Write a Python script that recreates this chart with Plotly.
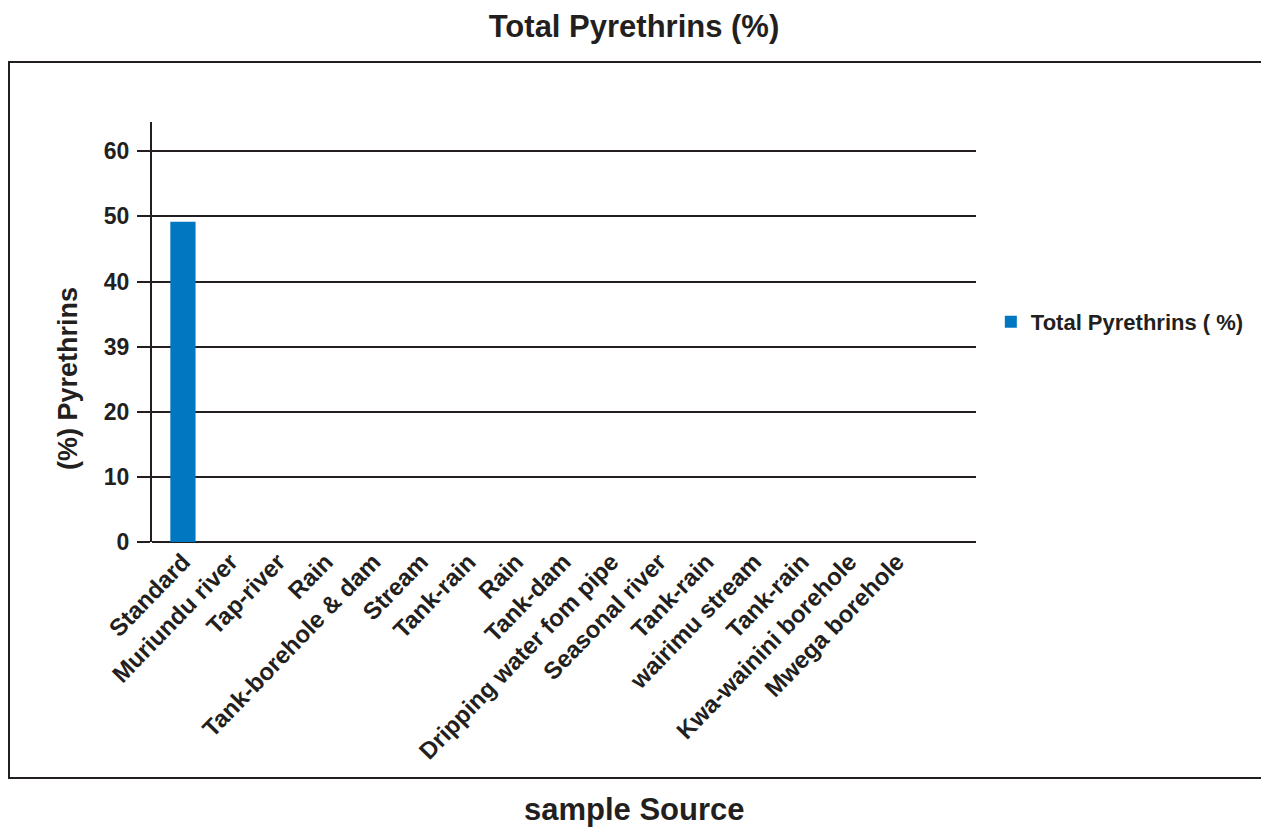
import plotly.graph_objects as go

categories = ["Standard", "Muriundu river", "Tap-river", "Rain", "Tank-borehole & dam",
              "Stream", "Tank-rain", "Rain", "Tank-dam", "Dripping water fom pipe",
              "Seasonal river", "Tank-rain", "wairimu stream", "Tank-rain",
              "Kwa-wainini borehole", "Mwega borehole"]
values = [49.2, 0, 0, 0, 0, 0, 0, 0, 0, 0, 0, 0, 0, 0, 0, 0]
y_tickvals = [0, 10, 20, 30, 40, 50, 60]
y_ticktext = ["0", "10", "20", "39", "40", "50", "60"]

FONT = "Liberation Sans, Arial, sans-serif"
INK = "#231f20"
x_idx = list(range(len(categories)))

# page has an 8px body offset; plot area spans page x 152..976, y 122..542
W, H = 1255, 821
L, T = 144, 114
PW, PH = 824, 420

fig = go.Figure()
fig.add_trace(go.Bar(
    x=x_idx, y=values, name="<b>Total Pyrethrins ( %)</b>",
    marker=dict(color="#0077c0", line=dict(width=0)),
    width=0.53, showlegend=True,
))

fig.update_layout(
    width=W, height=H,
    margin=dict(l=L, r=W - L - PW, t=T, b=H - T - PH),
    paper_bgcolor="white", plot_bgcolor="white",
    font=dict(family=FONT, color=INK),
    title=dict(text="<b>Total Pyrethrins (%)</b>", x=(634 - 8) / W, xanchor="center",
               y=1 - 18 / H, yanchor="middle", yref="container",
               font=dict(size=31, family=FONT, color=INK)),
    showlegend=True,
    legend=dict(x=1.018, y=0.524, xanchor="left", yanchor="middle",
                font=dict(size=22, family=FONT, color=INK),
                bgcolor="rgba(0,0,0,0)", itemwidth=30),
    xaxis=dict(
        range=[-0.65, 16.66], tickmode="array", tickvals=x_idx,
        ticktext=[f"<b>{c}</b>" for c in categories],
        tickangle=-46, tickfont=dict(size=24, family=FONT, color=INK),
        showgrid=False, zeroline=False, showline=False, ticks="",
    ),
    yaxis=dict(
        range=[0, 64.5], tickmode="array", tickvals=y_tickvals,
        ticktext=[f"<b>{t}</b>" for t in y_ticktext],
        tickfont=dict(size=23, family=FONT, color=INK),
        showgrid=True, gridcolor=INK, gridwidth=2,
        zeroline=True, zerolinecolor=INK, zerolinewidth=2,
        showline=True, linecolor=INK, linewidth=2,
        ticks="outside", ticklen=13, tickwidth=2, tickcolor=INK,
        ticklabelstandoff=3,
    ),
)

# outer frame
fig.add_shape(type="rect", xref="paper", yref="paper",
              x0=(9 - 152) / PW, x1=(1262 - 152) / PW,
              y0=(542 - 778) / PH, y1=(542 - 62) / PH,
              line=dict(color=INK, width=2), fillcolor="rgba(0,0,0,0)", layer="below")

# y-axis title (placed lower than the plot centre, as in the original)
fig.add_annotation(text="<b>(%) Pyrethrins</b>", xref="paper", yref="paper",
                   x=(68 - 152) / PW, y=(542 - 379) / PH, showarrow=False,
                   textangle=-90, xanchor="center", yanchor="middle",
                   font=dict(size=27, family=FONT, color=INK))

fig.add_annotation(text="<b>sample Source</b>", xref="paper", yref="paper",
                   x=(634 - 152) / PW, y=(542 - 809) / PH, showarrow=False,
                   xanchor="center", yanchor="middle",
                   font=dict(size=31, family=FONT, color=INK))

fig.write_html("out.html")
